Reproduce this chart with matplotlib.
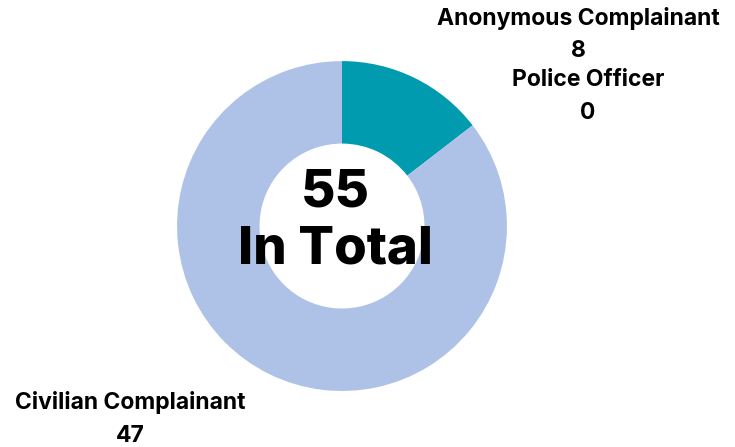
import matplotlib.pyplot as plt

categories = ["Anonymous Complainant", "Police Officer", "Civilian Complainant"]
counts = [8, 0, 47]
colors = ["#009BAF", "#4472C4", "#AEC2E8"]
total = sum(counts)

fig = plt.figure(figsize=(7.35, 4.47), dpi=100)
fig.patch.set_facecolor("white")

# donut centred at (342, 226) px, outer radius ~165 px
ax = fig.add_axes([0.2408, 0.1253, 0.449, 0.738])
ax.pie(counts, colors=colors, startangle=90, counterclock=False,
       radius=1.0, wedgeprops=dict(width=0.5, linewidth=0))
ax.set_xlim(-1, 1)
ax.set_ylim(-1, 1)
ax.set_aspect("equal")
ax.axis("off")

font = "Inter"
ax.text(-0.04, 0.20, f"{total}", ha="center", va="center", fontsize=38,
        fontweight="heavy", family=font)
ax.text(-0.04, -0.145, "In Total", ha="center", va="center", fontsize=38,
        fontweight="heavy", family=font)

def px(x, y):
    return x / 735, 1 - y / 447

label_pos = {
    "Anonymous Complainant": (578, 19, 51),
    "Police Officer": (588, 80, 113),
    "Civilian Complainant": (130, 403, 436),
}
for name, val in zip(categories, counts):
    x, y1, y2 = label_pos[name]
    fig.text(*px(x, y1), name, ha="center", va="center", fontsize=16.5,
             fontweight="bold", family=font)
    fig.text(*px(x, y2), str(val), ha="center", va="center", fontsize=16.5,
             fontweight="bold", family=font)

fig.savefig("out.png", dpi=100, facecolor="white")
